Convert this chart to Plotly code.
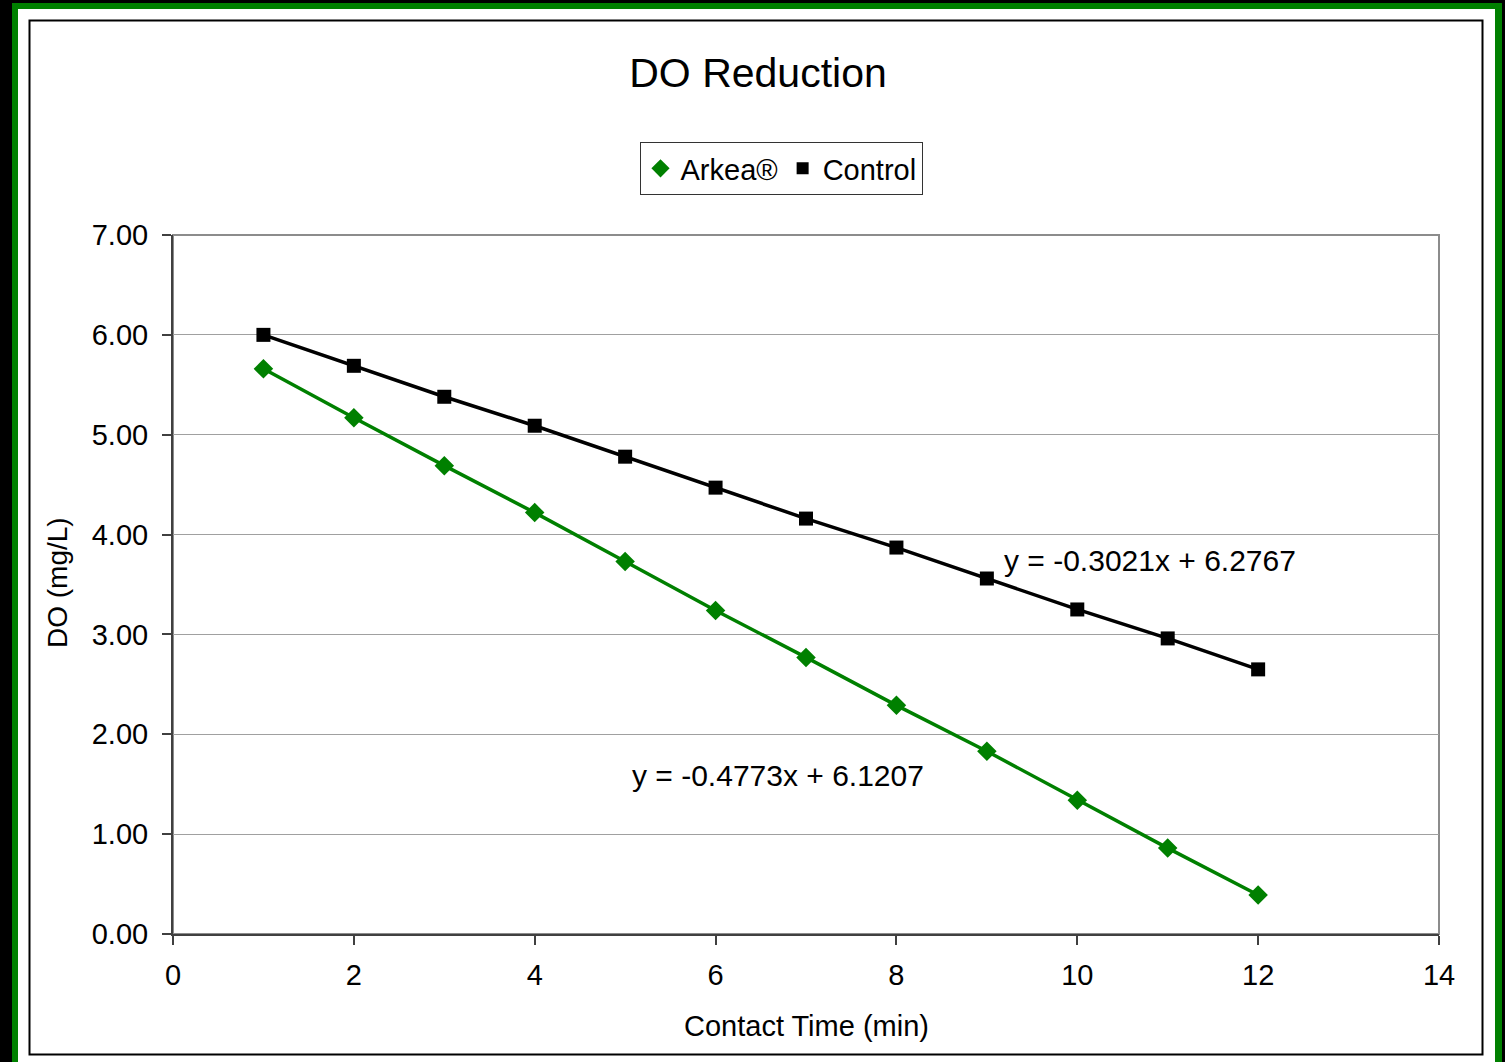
import plotly.graph_objects as go

time_min = [1, 2, 3, 4, 5, 6, 7, 8, 9, 10, 11, 12]
arkea_do = [5.66, 5.17, 4.69, 4.22, 3.73, 3.24, 2.77, 2.29, 1.83, 1.34, 0.86, 0.39]
control_do = [6.00, 5.69, 5.38, 5.09, 4.78, 4.47, 4.16, 3.87, 3.56, 3.25, 2.96, 2.65]
x_ticks = [0, 2, 4, 6, 8, 10, 12, 14]
y_ticks = [0, 1, 2, 3, 4, 5, 6, 7]
eq_control = "y = -0.3021x + 6.2767"
eq_arkea = "y = -0.4773x + 6.1207"

GREEN = "#008000"
FONT = "Liberation Sans, Arial, sans-serif"

W, H = 1505, 1062
L, R, T, B = 173, 1439, 235, 934

def px(xp):
    return (xp - L) / (R - L)

def py(yp):
    return (B - yp) / (B - T)

fig = go.Figure()

fig.add_trace(go.Scatter(x=time_min, y=arkea_do, mode="lines+markers", name="Arkea®",
                         line=dict(color=GREEN, width=3.5),
                         marker=dict(symbol="diamond", size=15, color=GREEN),
                         showlegend=False))
fig.add_trace(go.Scatter(x=time_min, y=control_do, mode="lines+markers", name="Control",
                         line=dict(color="black", width=3.5),
                         marker=dict(symbol="square", size=14, color="black"),
                         showlegend=False))
# legend entries (marker only)
fig.add_trace(go.Scatter(x=[None], y=[None], mode="markers", name="Arkea®",
                         marker=dict(symbol="diamond", size=14, color=GREEN)))
fig.add_trace(go.Scatter(x=[None], y=[None], mode="markers", name="Control",
                         marker=dict(symbol="square", size=12, color="black")))

shapes = [
    dict(type="rect", xref="paper", yref="paper", x0=px(12), x1=px(1502), y0=py(1070), y1=py(3),
         fillcolor=GREEN, line=dict(width=0), layer="below"),
    dict(type="rect", xref="paper", yref="paper", x0=px(18), x1=px(1495), y0=py(1070), y1=py(9),
         fillcolor="white", line=dict(width=0), layer="below"),
    dict(type="rect", xref="paper", yref="paper", x0=px(29.5), x1=px(1482.5), y0=py(1054.5), y1=py(20.5),
         fillcolor="rgba(0,0,0,0)", line=dict(color="black", width=2), layer="below"),
    dict(type="rect", xref="paper", yref="paper", x0=0, x1=1, y0=0, y1=1,
         fillcolor="rgba(0,0,0,0)", line=dict(color="#8c8c8c", width=2), layer="below"),
]

annotations = [
    dict(text=eq_control, x=10.8, y=3.745, xref="x", yref="y", showarrow=False,
         xanchor="center", yanchor="middle", font=dict(size=30, color="black", family=FONT)),
    dict(text=eq_arkea, x=6.69, y=1.59, xref="x", yref="y", showarrow=False,
         xanchor="center", yanchor="middle", font=dict(size=30, color="black", family=FONT)),
    dict(text="Contact Time (min)", x=px(806), y=py(1026), xref="paper", yref="paper", showarrow=False,
         xanchor="center", yanchor="middle", font=dict(size=29, color="black", family=FONT)),
    dict(text="DO (mg/L)", x=px(57), y=py(583), xref="paper", yref="paper", showarrow=False,
         textangle=-90, xanchor="center", yanchor="middle", font=dict(size=28, color="black", family=FONT)),
]

fig.update_layout(
    width=W, height=H,
    margin=dict(l=L, r=W - R, t=T, b=H - B, pad=0),
    paper_bgcolor="black",
    plot_bgcolor="white",
    font=dict(family=FONT, color="black", size=28),
    title=dict(text="DO Reduction", x=758 / W, xref="container", xanchor="center",
               y=1 - 73 / H, yref="container", yanchor="middle",
               font=dict(size=41, color="black", family=FONT)),
    legend=dict(orientation="h", x=px(781), xanchor="center", y=py(142), yanchor="top",
                bgcolor="white", bordercolor="#333333", borderwidth=1,
                font=dict(size=29, color="black", family=FONT), itemwidth=30,
                tracegroupgap=0),
    xaxis=dict(range=[0, 14], tickvals=x_ticks, ticktext=[str(v) for v in x_ticks],
               showgrid=False, zeroline=False, showline=True, linecolor="#404040", linewidth=2,
               ticks="outside", ticklen=9, tickwidth=2, tickcolor="#404040",
               ticklabelstandoff=5, tickfont=dict(size=29, color="black")),
    yaxis=dict(range=[0, 7], tickvals=y_ticks, tickformat=".2f",
               showgrid=True, gridcolor="#a0a0a0", gridwidth=1, zeroline=False,
               showline=True, linecolor="#404040", linewidth=2,
               ticks="outside", ticklen=9, tickwidth=2, tickcolor="#404040",
               ticklabelstandoff=8, tickfont=dict(size=29, color="black")),
    shapes=shapes,
    annotations=annotations,
    showlegend=True,
)

fig.write_html("out.html", config={"displayModeBar": False},
               post_script="document.body.style.margin='0';document.body.style.overflow='hidden';")
